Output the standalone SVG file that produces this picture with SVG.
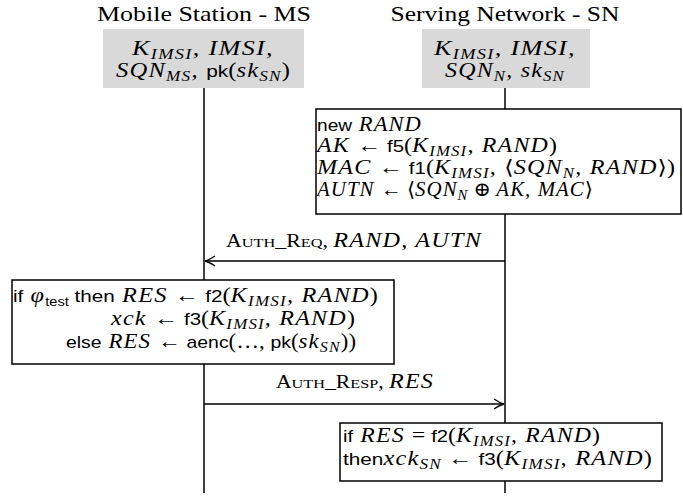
<svg xmlns="http://www.w3.org/2000/svg" width="683" height="496" viewBox="0 0 683 496">
<style>
.hd{font-family:"Liberation Serif","Times New Roman",serif;font-size:22px;fill:#000}
.m{font-family:"Liberation Serif","DejaVu Serif",serif;font-style:italic;font-size:20px;letter-spacing:1px;fill:#000}
.u{font-style:normal;letter-spacing:0}
.s{font-family:"Liberation Sans",sans-serif;font-style:normal;font-size:17px;letter-spacing:0}
.sub{font-size:14px}
.sc{font-family:"Liberation Serif",serif;font-style:normal;font-size:18px;letter-spacing:0}
.scs{font-size:13.5px}
.hdr{fill:#d9d9d9;stroke:none}
.box{fill:#fff;stroke:#000;stroke-width:1.5}
.life{stroke:#000;stroke-width:1.5;fill:none}
.msg{stroke:#000;stroke-width:1.3;fill:none}
</style>
<defs>
<marker id="ah" viewBox="-12 -7 14 14" refX="0" refY="0" markerWidth="14" markerHeight="14" markerUnits="userSpaceOnUse" orient="auto">
<path d="M-10,-5 Q-4,-1 0,0 Q-4,1 -10,5" fill="none" stroke="#000" stroke-width="1.4"/>
</marker>
</defs>

<g id="lifelines">
<line class="life" x1="204" y1="88" x2="204" y2="493"/>
<line class="life" x1="505" y1="88" x2="505" y2="493"/>
</g>

<g id="ms">
<text class="hd" x="204" y="21" text-anchor="middle" textLength="214" lengthAdjust="spacingAndGlyphs">Mobile Station - MS</text>
<rect class="hdr" x="103" y="29" width="201" height="59"/>
<text class="m" x="203" y="55" text-anchor="middle" textLength="142" lengthAdjust="spacingAndGlyphs">K<tspan class="sub" dy="4">IMSI</tspan><tspan dy="-4">, IMSI,</tspan></text>
<text class="m" x="203" y="77" text-anchor="middle" textLength="174" lengthAdjust="spacingAndGlyphs">SQN<tspan class="sub" dy="4">MS</tspan><tspan dy="-4">, </tspan><tspan class="s">pk</tspan><tspan class="u">(</tspan>sk<tspan class="sub" dy="4">SN</tspan><tspan class="u" dy="-4">)</tspan></text>
</g>

<g id="sn">
<text class="hd" x="505" y="21" text-anchor="middle" textLength="229" lengthAdjust="spacingAndGlyphs">Serving Network - SN</text>
<rect class="hdr" x="422" y="29" width="168" height="59"/>
<text class="m" x="505" y="55" text-anchor="middle" textLength="142" lengthAdjust="spacingAndGlyphs">K<tspan class="sub" dy="4">IMSI</tspan><tspan dy="-4">, IMSI,</tspan></text>
<text class="m" x="505" y="77" text-anchor="middle" textLength="120" lengthAdjust="spacingAndGlyphs">SQN<tspan class="sub" dy="4">N</tspan><tspan dy="-4">, sk</tspan><tspan class="sub" dy="4">SN</tspan></text>
</g>

<g id="sn-compute">
<rect class="box" x="316" y="109" width="365" height="105"/>
<text class="m" x="317" y="131" textLength="105" lengthAdjust="spacingAndGlyphs"><tspan class="s">new</tspan> RAND</text>
<text class="m" x="317" y="152" textLength="240" lengthAdjust="spacingAndGlyphs">AK <tspan class="u">← </tspan><tspan class="s">f5</tspan><tspan class="u">(</tspan>K<tspan class="sub" dy="4">IMSI</tspan><tspan dy="-4">, RAND</tspan><tspan class="u">)</tspan></text>
<text class="m" x="317" y="174" textLength="358" lengthAdjust="spacingAndGlyphs">MAC <tspan class="u">← </tspan><tspan class="s">f1</tspan><tspan class="u">(</tspan>K<tspan class="sub" dy="4">IMSI</tspan><tspan dy="-4">, </tspan><tspan class="u">⟨</tspan>SQN<tspan class="sub" dy="4">N</tspan><tspan dy="-4">, RAND</tspan><tspan class="u">⟩)</tspan></text>
<text class="m" x="317" y="196" textLength="276" lengthAdjust="spacingAndGlyphs">AUTN <tspan class="u">← ⟨</tspan>SQN<tspan class="sub" dy="4">N</tspan><tspan class="u" dy="-4"> ⊕ </tspan>AK, MAC<tspan class="u">⟩</tspan></text>
</g>

<g id="ms-compute">
<rect class="box" x="12" y="280" width="382" height="84"/>
<text class="m" x="13" y="302" textLength="365" lengthAdjust="spacingAndGlyphs"><tspan class="s">if</tspan> φ<tspan class="s" dy="4" style="font-size:12px">test</tspan><tspan class="s" dy="-4"> then</tspan> RES <tspan class="u">← </tspan><tspan class="s">f2</tspan><tspan class="u">(</tspan>K<tspan class="sub" dy="4">IMSI</tspan><tspan dy="-4">, RAND</tspan><tspan class="u">)</tspan></text>
<text class="m" x="111" y="325" textLength="244" lengthAdjust="spacingAndGlyphs">xck <tspan class="u">← </tspan><tspan class="s">f3</tspan><tspan class="u">(</tspan>K<tspan class="sub" dy="4">IMSI</tspan><tspan dy="-4">, RAND</tspan><tspan class="u">)</tspan></text>
<text class="m" x="66" y="348" textLength="290" lengthAdjust="spacingAndGlyphs"><tspan class="s">else</tspan> RES <tspan class="u">← </tspan><tspan class="s">aenc</tspan><tspan class="u">(…, </tspan><tspan class="s">pk</tspan><tspan class="u">(</tspan>sk<tspan class="sub" dy="4">SN</tspan><tspan class="u" dy="-4">))</tspan></text>
</g>

<g id="sn-check">
<rect class="box" x="340" y="423" width="322" height="58"/>
<text class="m" x="343" y="442" textLength="257" lengthAdjust="spacingAndGlyphs"><tspan class="s">if</tspan> RES <tspan class="u">= </tspan><tspan class="s">f2</tspan><tspan class="u">(</tspan>K<tspan class="sub" dy="4">IMSI</tspan><tspan dy="-4">, RAND</tspan><tspan class="u">)</tspan></text>
<text class="m" x="343" y="465" textLength="309" lengthAdjust="spacingAndGlyphs"><tspan class="s">then</tspan>xck<tspan class="sub" dy="4">SN</tspan><tspan class="u" dy="-4"> ← </tspan><tspan class="s">f3</tspan><tspan class="u">(</tspan>K<tspan class="sub" dy="4">IMSI</tspan><tspan dy="-4">, RAND</tspan><tspan class="u">)</tspan></text>
</g>

<g id="connectors">
<line class="msg" x1="505" y1="261" x2="205" y2="261" marker-end="url(#ah)"/>
<text class="m" x="354" y="247" text-anchor="middle" textLength="256" lengthAdjust="spacingAndGlyphs"><tspan class="sc">A<tspan class="scs">UTH</tspan>_R<tspan class="scs">EQ</tspan>, </tspan>RAND,  AUTN</text>
<line class="msg" x1="204" y1="404" x2="504" y2="404" marker-end="url(#ah)"/>
<text class="m" x="355" y="388" text-anchor="middle" textLength="158" lengthAdjust="spacingAndGlyphs"><tspan class="sc">A<tspan class="scs">UTH</tspan>_R<tspan class="scs">ESP</tspan>, </tspan>RES</text>
</g>
</svg>
